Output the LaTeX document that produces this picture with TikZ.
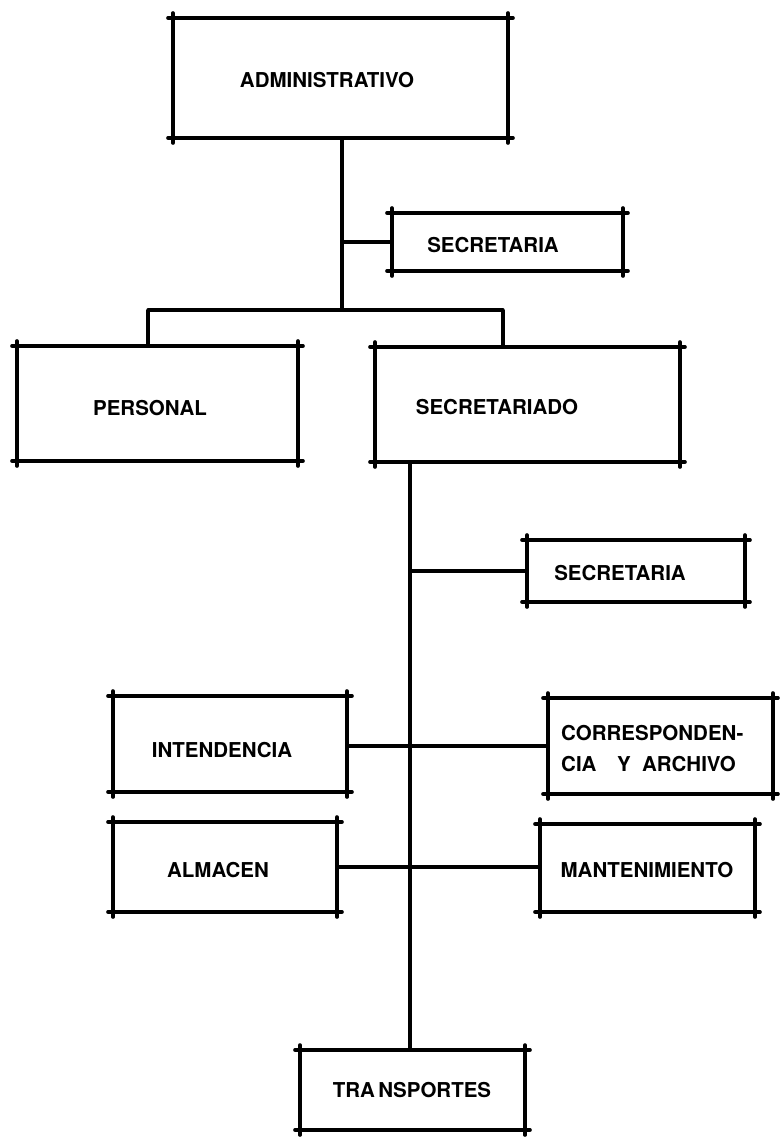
\documentclass[tikz,border=0pt]{standalone}
\usepackage{fontspec}
\setmainfont{TeX Gyre Heros}
\begin{document}
\begin{tikzpicture}[x=1pt,y=-1pt,
  unit/.style={draw=none, rectangle, inner sep=0pt, outer sep=0pt},
  caption/.style={font=\fontsize{20.5}{24}\selectfont\bfseries, inner sep=0pt},
  rule/.style={line width=3.6pt, line cap=round, shorten <=-5pt, shorten >=-5pt},
  link/.style={line width=3.4pt}]
\useasboundingbox (0,0) rectangle (784,1144);

% a box whose hand-ruled edges run a little past each corner
\newcommand\orgbox[5]{%
  \node[unit, minimum width={(#4-#2)*1pt}, minimum height={(#5-#3)*1pt}]
    (#1) at ({(#2+#4)/2},{(#3+#5)/2}) {};
  \draw[rule] (#1.north west) -- (#1.north east);
  \draw[rule] (#1.south west) -- (#1.south east);
  \draw[rule] (#1.north west) -- (#1.south west);
  \draw[rule] (#1.north east) -- (#1.south east);
}

\orgbox{admin}{173}{18}{508}{138}
\orgbox{sec1}{392}{213}{623}{271}
\orgbox{pers}{17}{346}{298}{461}
\orgbox{sriado}{375}{347}{680}{462}
\orgbox{sec2}{527}{540}{745}{602}
\orgbox{inten}{113}{696}{347}{792}
\orgbox{corr}{548}{698}{773}{794}
\orgbox{alma}{113}{822}{337}{912}
\orgbox{mant}{540}{824}{755}{912}
\orgbox{trans}{300}{1050}{525}{1130}

% labels
\node[caption] (admin-t) at (327,80) {ADMINISTRATIVO};
\node[caption] (sec1-t) at (493,245) {SECRETARIA};
\node[caption] (pers-t) at (150,408) {PERSONAL};
\node[caption] (sriado-t) at (497,407) {SECRETARIADO};
\node[caption] (sec2-t) at (620,573) {SECRETARIA};
\node[caption] (inten-t) at (222,750) {INTENDENCIA};
\node[caption, anchor=west] (corr-t1) at (561,733) {CORRESPONDEN-};
\node[caption, anchor=west] (corr-t2) at (561,764) {CIA\quad Y\ \ ARCHIVO};
\node[caption] (alma-t) at (218,870) {ALMACEN};
\node[caption] (mant-t) at (647,870) {MANTENIMIENTO};
\node[caption] (trans-t) at (412,1090) {TRA\,NSPORTES};

% junctions
\coordinate (top) at (342,310);
\coordinate (barL) at (148,310);
\coordinate (barR) at (503,310);
\coordinate (spine) at (410,462);

% connectors
\draw[link] (admin.south -| top) -- (top);
\draw[link] (sec1.west -| top) -- (sec1.west);
\draw[link, line cap=round] (barL) -- (barR);
\draw[link] (barL) -- (pers.north -| barL);
\draw[link] (barR) -- (sriado.north -| barR);
\draw[link] (spine) -- (trans.north -| spine);
\draw[link] (sec2.west -| spine) -- (sec2.west);
\draw[link] (inten.east |- corr.west) -- (corr.west);
\draw[link] (alma.east) -- (mant.west |- alma.east);
\end{tikzpicture}
\end{document}
